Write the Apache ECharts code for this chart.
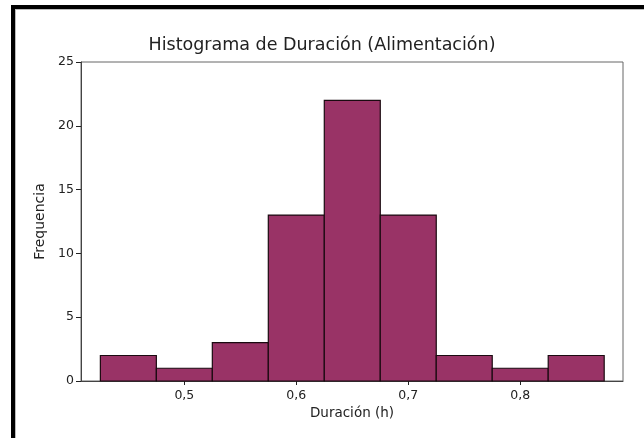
<!DOCTYPE html>
<html>
<head>
<meta charset="utf-8">
<script src="https://cdn.jsdelivr.net/npm/echarts@6/dist/echarts.min.js"></script>
<style>
  html, body { margin: 0; padding: 0; background: #fff; }
  #chart { width: 644px; height: 438px; }
</style>
</head>
<body>
<div id="chart"></div>
<script>
// histograma: limites de cada clase y frecuencias
const binStart = [0.425, 0.475, 0.525, 0.575, 0.625, 0.675, 0.725, 0.775, 0.825];
const binEnd = [0.475, 0.525, 0.575, 0.625, 0.675, 0.725, 0.775, 0.825, 0.875];
const counts = [2, 1, 3, 13, 22, 13, 2, 1, 2];
const xTicks = [0.5, 0.6, 0.7, 0.8];
const yTicks = [0, 5, 10, 15, 20, 25];

const font = "DejaVu Sans";

const initChart = () => {
    const myChart = echarts.init(document.getElementById("chart"));
    const data = counts.map((c, i) => [binStart[i], binEnd[i], c]);

    const option = {
        animation: false,
        backgroundColor: "#fff",
        title: {
            text: "Histograma de Duración (Alimentación)",
            left: "center",
            top: 31,
            textStyle: { fontFamily: font, fontSize: 17.5, fontWeight: "normal", color: "#222" }
        },
        grid: {
            left: 81, right: 21, top: 62, bottom: 57,
            show: true, borderColor: "#666", borderWidth: 1
        },
        xAxis: {
            type: "value",
            min: 0.4077,
            max: 0.8918,
            name: "Duración (h)",
            nameLocation: "middle",
            nameGap: 25,
            nameTextStyle: { fontFamily: font, fontSize: 13.5, color: "#222" },
            splitLine: { show: false },
            axisLine: { lineStyle: { color: "#444" } },
            axisTick: { length: 4, lineStyle: { color: "#222" }, customValues: xTicks },
            axisLabel: {
                fontFamily: font, fontSize: 12.5, color: "#222", margin: 8,
                customValues: xTicks,
                formatter: v => v.toFixed(1).replace(".", ",")
            }
        },
        yAxis: {
            type: "value",
            min: 0,
            max: 25,
            interval: 5,
            name: "Frequencia",
            nameLocation: "middle",
            nameGap: 33,
            nameTextStyle: { fontFamily: font, fontSize: 14, color: "#222" },
            splitLine: { show: false },
            axisLine: { show: true, lineStyle: { color: "#444" } },
            axisTick: { show: true, length: 5, lineStyle: { color: "#222" } },
            axisLabel: {
                fontFamily: font, fontSize: 12.5, color: "#222", margin: 7,
                formatter: v => yTicks.includes(v) ? String(v) : ""
            }
        },
        series: [{
            type: "custom",
            data: data,
            encode: { x: [0, 1], y: 2 },
            renderItem: (params, api) => {
                const p0 = api.coord([api.value(0), api.value(2)]);
                const p1 = api.coord([api.value(1), 0]);
                return {
                    type: "rect",
                    shape: { x: p0[0], y: p0[1], width: p1[0] - p0[0], height: p1[1] - p0[1] },
                    style: { fill: "#993366", stroke: "#1a0a10", lineWidth: 1.2 }
                };
            }
        }],
        graphic: [
            // marco negro recortado (izquierda y arriba)
            { type: "rect", shape: { x: 11, y: 5, width: 4, height: 433 }, style: { fill: "#000" } },
            { type: "rect", shape: { x: 11, y: 5, width: 633, height: 4 }, style: { fill: "#000" } },
            { type: "line", shape: { x1: 15, y1: 9.5, x2: 644, y2: 9.5 }, style: { stroke: "#bbb", lineWidth: 1 } },
            { type: "line", shape: { x1: 15.5, y1: 9, x2: 15.5, y2: 438 }, style: { stroke: "#bbb", lineWidth: 1 } }
        ]
    };
    myChart.setOption(option);
};

window.addEventListener("load", () => {
    initChart();
});
</script>
</body>
</html>
